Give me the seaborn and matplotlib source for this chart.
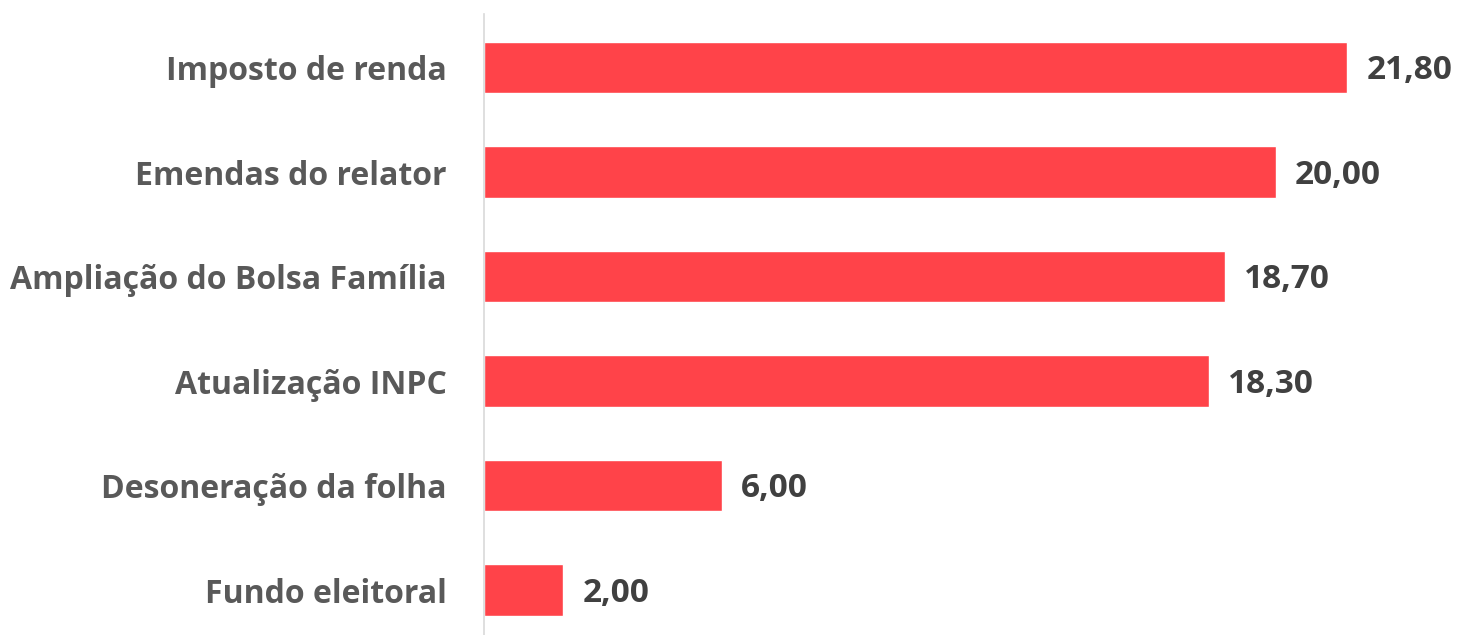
import matplotlib
matplotlib.use("Agg")
import matplotlib.pyplot as plt
import seaborn as sns
import pandas as pd

categorias = ["Imposto de renda", "Emendas do relator", "Ampliação do Bolsa Família",
              "Atualização INPC", "Desoneração da folha", "Fundo eleitoral"]
valores = [21.80, 20.00, 18.70, 18.30, 6.00, 2.00]

df = pd.DataFrame({"categoria": categorias, "valor": valores})

sns.set_theme(style="white")
plt.rcParams["font.family"] = ["Open Sans", "DejaVu Sans"]

W, H = 1458, 635
fig = plt.figure(figsize=(W / 100, H / 100), dpi=100)
ax = fig.add_axes([484 / W, 0, (W - 484) / W, (H - 14) / H])

sns.barplot(data=df, x="valor", y="categoria", orient="h", color="#FF4349",
            width=0.49, saturation=1, ax=ax)

ax.set_xlim(0, (W - 484) / 39.6)
ax.set_ylim(5.43, -0.512)
ax.set_xlabel("")
ax.set_ylabel("")
ax.set_xticks([])
for s in ["top", "right", "bottom"]:
    ax.spines[s].set_visible(False)
ax.spines["left"].set_color("#D9D9D9")
ax.spines["left"].set_linewidth(1.2)
ax.tick_params(axis="y", length=0, pad=27)
for lbl in ax.get_yticklabels():
    lbl.set_fontsize(23)
    lbl.set_fontweight("bold")
    lbl.set_color("#595959")

for i, v in enumerate(valores):
    ax.annotate(f"{v:.2f}".replace(".", ","), xy=(v, i), xytext=(19, -3),
                textcoords="offset pixels", va="center", ha="left",
                fontsize=24, fontweight="bold", color="#404040")

fig.savefig("out.png", dpi=100, facecolor="white")
